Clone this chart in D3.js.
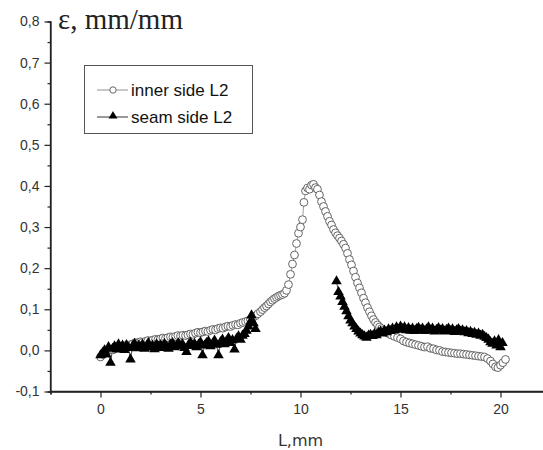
<!DOCTYPE html>
<html>
<head>
<meta charset="utf-8">
<script src="https://cdn.jsdelivr.net/npm/d3@7"></script>
<style>
  body { margin: 0; background: #fff; }
  svg { display: block; }
</style>
</head>
<body>
<svg width="543" height="450"></svg>
<script>
// inner side L2 (open circles)
var innerL = [0.00,0.12,0.25,0.37,0.50,0.62,0.75,0.87,1.00,1.12,1.25,1.37,1.50,1.62,1.75,1.87,2.00,2.12,2.25,2.37,2.50,2.62,2.75,2.87,3.00,3.12,3.25,3.37,3.50,3.62,3.75,3.87,4.00,4.12,4.25,4.37,4.50,4.62,4.75,4.87,5.00,5.12,5.25,5.37,5.50,5.62,5.75,5.87,6.00,6.12,6.25,6.37,6.50,6.62,6.75,6.87,7.00,7.12,7.25,7.37,7.50,7.62,7.75,7.87,8.00,8.10,8.20,8.30,8.40,8.50,8.60,8.70,8.80,8.90,9.00,9.10,9.20,9.30,9.40,9.50,9.60,9.70,9.80,9.90,10.00,10.10,10.17,10.25,10.35,10.45,10.55,10.65,10.75,10.85,10.95,11.05,11.15,11.25,11.35,11.45,11.55,11.65,11.75,11.85,11.95,12.05,12.15,12.25,12.35,12.45,12.55,12.65,12.75,12.85,12.95,13.05,13.15,13.25,13.35,13.45,13.55,13.65,13.75,13.85,13.95,14.05,14.15,14.25,14.40,14.55,14.70,14.85,15.00,15.15,15.30,15.45,15.60,15.75,15.90,16.05,16.20,16.35,16.50,16.65,16.80,16.95,17.10,17.25,17.40,17.55,17.70,17.85,18.00,18.15,18.30,18.45,18.60,18.75,18.90,19.05,19.20,19.35,19.50,19.62,19.75,19.87,20.00,20.12,20.25];
var innerE = [-0.016,-0.010,-0.004,0.000,0.003,0.001,0.005,0.007,0.006,0.010,0.012,0.011,0.014,0.016,0.019,0.018,0.021,0.020,0.022,0.024,0.023,0.025,0.027,0.026,0.028,0.030,0.029,0.031,0.033,0.032,0.034,0.036,0.035,0.037,0.036,0.038,0.040,0.039,0.042,0.044,0.043,0.045,0.047,0.046,0.049,0.051,0.050,0.053,0.055,0.054,0.057,0.059,0.058,0.061,0.063,0.062,0.066,0.068,0.070,0.072,0.075,0.080,0.084,0.089,0.094,0.099,0.104,0.108,0.113,0.118,0.122,0.126,0.129,0.132,0.134,0.136,0.139,0.146,0.160,0.185,0.210,0.232,0.260,0.285,0.300,0.318,0.360,0.388,0.395,0.392,0.402,0.404,0.396,0.392,0.378,0.362,0.350,0.338,0.326,0.314,0.305,0.294,0.286,0.279,0.273,0.266,0.258,0.249,0.236,0.221,0.208,0.193,0.178,0.164,0.152,0.140,0.127,0.116,0.104,0.094,0.084,0.075,0.068,0.062,0.057,0.053,0.049,0.045,0.041,0.037,0.034,0.031,0.028,0.023,0.020,0.018,0.016,0.014,0.012,0.010,0.008,0.009,0.005,0.004,0.001,0.000,-0.003,-0.004,-0.005,-0.006,-0.007,-0.008,-0.008,-0.009,-0.010,-0.011,-0.012,-0.013,-0.014,-0.015,-0.016,-0.020,-0.026,-0.033,-0.040,-0.042,-0.036,-0.030,-0.022];

// seam side L2 (filled triangles)
var seamL = [0.00,0.10,0.20,0.30,0.40,0.50,0.60,0.70,0.80,0.90,1.00,1.10,1.20,1.30,1.40,1.50,1.60,1.70,1.80,1.90,2.00,2.10,2.20,2.30,2.40,2.50,2.60,2.70,2.80,2.90,3.00,3.10,3.20,3.30,3.40,3.50,3.60,3.70,3.80,3.90,4.00,4.10,4.20,4.30,4.40,4.50,4.60,4.70,4.80,4.90,5.00,5.10,5.20,5.30,5.40,5.50,5.60,5.70,5.80,5.90,6.00,6.10,6.20,6.30,6.40,6.50,6.60,6.70,6.80,6.90,7.00,7.10,7.20,7.30,7.40,7.50,7.55,7.65,7.75,
  11.80,11.90,12.00,12.10,12.20,12.30,12.40,12.50,12.60,12.70,12.80,12.90,13.00,13.10,13.20,13.30,13.40,13.50,13.60,13.70,13.80,13.90,14.00,14.10,14.20,14.30,14.40,14.50,14.60,14.70,14.80,14.90,15.00,15.10,15.20,15.30,15.40,15.50,15.60,15.70,15.80,15.90,16.00,16.10,16.20,16.30,16.40,16.50,16.60,16.70,16.80,16.90,17.00,17.10,17.20,17.30,17.40,17.50,17.60,17.70,17.80,17.90,18.00,18.10,18.20,18.30,18.40,18.50,18.60,18.70,18.80,18.90,19.00,19.10,19.20,19.30,19.40,19.50,19.60,19.70,19.80,19.90,20.00,20.10];
var seamE = [-0.012,-0.006,0.000,-0.010,0.008,-0.030,0.004,0.010,0.002,0.015,0.006,0.012,0.001,0.013,0.006,-0.022,0.010,0.016,0.005,0.012,0.008,0.014,0.004,0.011,0.017,0.007,0.012,0.003,0.015,0.009,0.013,0.006,0.016,0.010,0.004,0.014,0.018,0.008,0.012,0.017,0.010,0.015,0.006,-0.004,0.013,0.019,0.011,0.016,0.008,0.014,0.020,-0.012,0.012,0.018,0.022,0.010,0.016,0.024,0.014,-0.012,0.020,0.026,0.015,0.022,0.030,0.018,0.025,0.002,0.028,0.034,0.026,0.036,0.040,0.048,0.058,0.070,0.085,0.066,0.052,
  0.168,0.142,0.131,0.118,0.106,0.095,0.083,0.073,0.066,0.058,0.052,0.046,0.041,0.037,0.034,0.031,0.036,0.038,0.035,0.040,0.037,0.043,0.046,0.041,0.048,0.044,0.051,0.047,0.053,0.049,0.056,0.050,0.058,0.052,0.056,0.049,0.054,0.048,0.053,0.047,0.052,0.055,0.049,0.053,0.047,0.051,0.056,0.049,0.053,0.046,0.050,0.054,0.048,0.052,0.046,0.050,0.053,0.047,0.051,0.045,0.049,0.052,0.046,0.049,0.044,0.047,0.042,0.045,0.040,0.043,0.038,0.041,0.036,0.038,0.033,0.030,0.026,0.020,0.016,0.022,0.012,0.025,0.008,0.018];

var yTicks = [-0.1, 0.0, 0.1, 0.2, 0.3, 0.4, 0.5, 0.6, 0.7, 0.8];
var xTicks = [0, 5, 10, 15, 20];
var legendLabels = ['inner side L2', 'seam side L2'];

var inner = innerL.map((l, i) => ({l: l, e: innerE[i]}));
var seam = seamL.map((l, i) => ({l: l, e: seamE[i]}));

var svg = d3.select('svg');

var x = d3.scaleLinear().domain([-2.5, 22.5]).range([50.5, 550.5]);
var y = d3.scaleLinear().domain([-0.1, 0.8]).range([391.5, 21.5]);

// decimal comma, plain hyphen for minus
var fmt = d => d3.format('.1f')(d).replace('.', ',').replace('\u2212', '-');

// axes, major + minor ticks
var yAxis = svg.append('g')
  .attr('transform', 'translate(50.5,0)')
  .call(d3.axisLeft(y).tickValues(yTicks).tickFormat(fmt).tickSize(6).tickPadding(5));
svg.append('g')
  .attr('transform', 'translate(50.5,0)')
  .call(d3.axisLeft(y).tickValues(d3.range(-0.05, 0.8, 0.1)).tickFormat('').tickSize(3));

var xAxis = svg.append('g')
  .attr('transform', 'translate(0,391.5)')
  .call(d3.axisBottom(x).tickValues(xTicks).tickSize(6).tickPadding(7));
svg.append('g')
  .attr('transform', 'translate(0,391.5)')
  .call(d3.axisBottom(x).tickValues([-2.5, 2.5, 7.5, 12.5, 17.5]).tickFormat('').tickSize(3));

svg.selectAll('.domain').attr('stroke', '#222').attr('stroke-width', 1.3);
svg.selectAll('.tick line').attr('stroke', '#222').attr('stroke-width', 1.2);
svg.selectAll('.tick text')
  .attr('font-family', 'Arial, "Liberation Sans", sans-serif')
  .attr('font-size', 14)
  .attr('fill', '#333');
// plain spines without end caps
yAxis.select('.domain').attr('d', 'M0,' + y(0.8) + 'V' + y(-0.1));
xAxis.select('.domain').attr('d', 'M' + x(-2.5) + ',0H543');

// axis labels
svg.append('text')
  .attr('x', 58).attr('y', 29)
  .attr('font-family', '"Liberation Serif", "Times New Roman", serif')
  .attr('font-size', 29)
  .attr('fill', '#222')
  .text('ε, mm/mm');

svg.append('text')
  .attr('x', x(10)).attr('y', 446)
  .attr('text-anchor', 'middle')
  .attr('font-family', '"DejaVu Sans", Verdana, sans-serif')
  .attr('font-size', 16)
  .attr('fill', '#333')
  .text('L,mm');

// connecting lines
var line = d3.line().x(d => x(d.l)).y(d => y(d.e));
function segments(data) {
  var out = [[]];
  data.forEach((d, i) => {
    if (i > 0 && d.l - data[i - 1].l > 1) out.push([]);
    out[out.length - 1].push(d);
  });
  return out;
}
svg.selectAll('.innerLine').data(segments(inner)).enter().append('path')
  .attr('d', line).attr('fill', 'none').attr('stroke', '#777').attr('stroke-width', 0.7);
svg.selectAll('.seamLine').data(segments(seam)).enter().append('path')
  .attr('d', line).attr('fill', 'none').attr('stroke', '#000').attr('stroke-width', 0.7);

// markers
svg.append('g').selectAll('circle').data(inner).enter().append('circle')
  .attr('cx', d => x(d.l)).attr('cy', d => y(d.e)).attr('r', 3.9)
  .attr('fill', '#fff').attr('stroke', '#555').attr('stroke-width', 0.9);

var tri = d3.symbol().type(d3.symbolTriangle).size(48);
svg.append('g').selectAll('path').data(seam).enter().append('path')
  .attr('d', tri)
  .attr('transform', d => 'translate(' + x(d.l) + ',' + y(d.e) + ')')
  .attr('fill', '#000');

// legend
var lg = svg.append('g');
lg.append('rect').attr('x', 84.5).attr('y', 65.5).attr('width', 168).attr('height', 68)
  .attr('fill', '#fff').attr('stroke', '#555').attr('stroke-width', 1);
var legTri = d3.symbol().type(d3.symbolTriangle).size(34);
legendLabels.forEach((t, i) => {
  var cy = 90 + i * 27;
  lg.append('line').attr('x1', 97).attr('x2', 128).attr('y1', cy).attr('y2', cy)
    .attr('stroke', i ? '#000' : '#777').attr('stroke-width', 0.8);
  if (i === 0) {
    lg.append('circle').attr('cx', 113).attr('cy', cy).attr('r', 3.2)
      .attr('fill', '#fff').attr('stroke', '#555').attr('stroke-width', 0.9);
  } else {
    lg.append('path').attr('d', legTri).attr('transform', 'translate(113,' + (cy - 1) + ')').attr('fill', '#000');
  }
  lg.append('text').attr('x', 131).attr('y', cy + 6)
    .attr('font-family', '"Liberation Sans", Arial, sans-serif')
    .attr('font-size', 17)
    .attr('fill', '#111')
    .text(t);
});
</script>
</body>
</html>
